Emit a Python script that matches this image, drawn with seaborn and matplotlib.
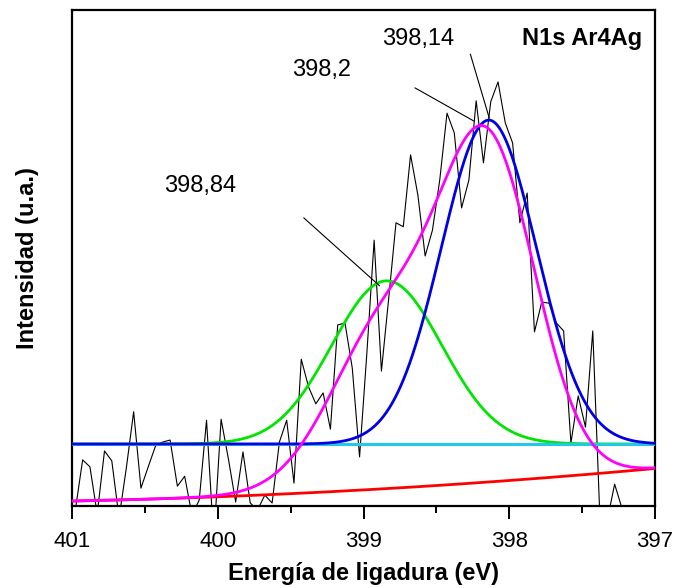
import numpy as np
import pandas as pd
import matplotlib
matplotlib.use("Agg")
import matplotlib.pyplot as plt
from matplotlib import font_manager
import seaborn as sns

# --- N1s spectrum (Ar4Ag), binding energy in eV, intensity in arbitrary units ---
e_start = 400.977   # first channel (eV)
e_step = 0.05       # channel width (eV)
counts = [
    -0.8, 9.3, 7.9, -1.6, 11.1, 9.1, -2.4, 7.7, 19.0, 3.6,
    7.9, 12.1, 12.9, 13.3, 4.0, 6.0, -1.8, 1.2, 17.3, -6.9,
    17.5, 9.5, 0.8, 10.9, 0.6, -0.8, 2.2, 0.6, 12.9, 17.3,
    4.6, 29.6, 24.0, 20.6, 22.8, 15.5, 36.5, 36.9, 27.8, 9.9,
    30.8, 53.6, 27.2, 41.9, 57.1, 56.3, 70.8, 62.7, 50.4, 55.6,
    65.7, 79.2, 75.2, 60.1, 65.7, 81.7, 69.2, 81.5, 85.5, 77.2,
    73.2, 57.1, 63.1, 35.1, 41.1, 40.9, 36.9, 35.3, 12.7, 22.2,
    15.9, 35.3, -3.2, -2.8, 4.4, -0.4, -2.0, -2.0, -2.0, -2.0,
]

# Fitted components (Gaussian): centre (eV), height, sigma (eV)
peak_centres = [398.84, 398.14]
peak_heights = [32.9, 65.3]
peak_sigmas = [0.377, 0.326]
peak_colors = ["#00E600", "#0000E6"]
offset_level = 12.5          # level on which the components are drawn
bg_coef = [1.0, 0.6, 0.26]   # background polynomial in (401 - E)
envelope_peak = 398.2
tick_values = [401, 400, 399, 398, 397]
tick_labels = ["401", "400", "399", "398", "397"]

energy = e_start - e_step * np.arange(len(counts))
e_fit = np.linspace(401.0, 397.0, 600)


def gauss(e, c, h, s):
    return h * np.exp(-0.5 * ((e - c) / s) ** 2)


t = 401.0 - e_fit
background = bg_coef[0] + bg_coef[1] * t + bg_coef[2] * t ** 2
components = [gauss(e_fit, c, h, s) for c, h, s in zip(peak_centres, peak_heights, peak_sigmas)]
envelope = background + components[0] + components[1]

sns.set_theme(style="white")
plt.rcParams["font.family"] = ["Liberation Sans", "DejaVu Sans"]
plt.rcParams["text.color"] = "black"
plt.rcParams["axes.labelcolor"] = "black"
plt.rcParams["xtick.color"] = "black"

# condensed face for the tick numbers if available
installed = {f.name for f in font_manager.fontManager.ttflist}
if "Liberation Sans Narrow" in installed:
    tick_font = dict(family="Liberation Sans Narrow", fontsize=17)
else:
    tick_font = dict(family="Liberation Sans", fontsize=16)

fig = plt.figure(figsize=(6.73, 5.88), dpi=100)
ax = fig.add_axes([72 / 673, 1 - 506 / 588, (655 - 72) / 673, (506 - 10) / 588])

df_raw = pd.DataFrame({"E": energy, "I": counts})
sns.lineplot(data=df_raw, x="E", y="I", ax=ax, color="black", lw=0.8,
             sort=False, estimator=None, zorder=2)
sns.lineplot(x=e_fit, y=background, ax=ax, color="#FF0000", lw=2.0,
             sort=False, estimator=None, zorder=3)
sns.lineplot(x=e_fit, y=offset_level + components[0], ax=ax, color=peak_colors[0],
             lw=2.0, sort=False, estimator=None, zorder=3)
sns.lineplot(x=e_fit, y=np.full_like(e_fit, offset_level), ax=ax, color="#22C8E8",
             lw=2.2, sort=False, estimator=None, zorder=4)
sns.lineplot(x=e_fit, y=offset_level + components[1], ax=ax, color=peak_colors[1],
             lw=2.0, sort=False, estimator=None, zorder=5)
sns.lineplot(x=e_fit, y=envelope, ax=ax, color="#FF00FF", lw=2.0,
             sort=False, estimator=None, zorder=6)

ax.set_xlim(401, 397)
ax.set_ylim(0, 100)

# leader lines from labels to the peaks
leaders = [
    ((399.41, 58.1), (398.89, 44.4)),
    ((398.647, 84.3), (398.242, 77.6)),
    ((398.267, 91.1), (398.137, 78.2)),
]
for start, end in leaders:
    ax.annotate("", xy=end, xytext=start,
                arrowprops=dict(arrowstyle="-", lw=0.8, color="black",
                                shrinkA=0, shrinkB=0), zorder=7)

ax.text(400.122, 63.4, f"{peak_centres[0]:.2f}".replace(".", ","), fontsize=17,
        ha="center", va="baseline", color="black")
ax.text(399.285, 86.7, f"{envelope_peak:.1f}".replace(".", ","), fontsize=17,
        ha="center", va="baseline", color="black")
ax.text(398.624, 92.9, f"{peak_centres[1]:.2f}".replace(".", ","), fontsize=17,
        ha="center", va="baseline", color="black")
ax.text(397.088, 92.9, "N1s Ar4Ag", fontsize=17, fontweight="bold",
        ha="right", va="baseline", color="black")

ax.set_xticks(tick_values)
ax.set_xticklabels(tick_labels, **tick_font)
ax.set_xticks(np.arange(400.5, 397, -1.0), minor=True)
ax.set_yticks([])
ax.tick_params(axis="x", which="major", direction="out", length=9, width=1.4,
               pad=9, bottom=True, colors="black")
ax.tick_params(axis="x", which="minor", direction="out", length=5, width=1.4,
               bottom=True)
for s in ax.spines.values():
    s.set_color("black")
    s.set_linewidth(1.6)

ax.set_xlabel("Energía de ligadura (eV)", fontsize=17, fontweight="bold",
              labelpad=7, color="black")
ax.set_ylabel("Intensidad (u.a.)", fontsize=17, fontweight="bold",
              labelpad=24, color="black")
ax.grid(False)

fig.savefig("out.png", dpi=100)
